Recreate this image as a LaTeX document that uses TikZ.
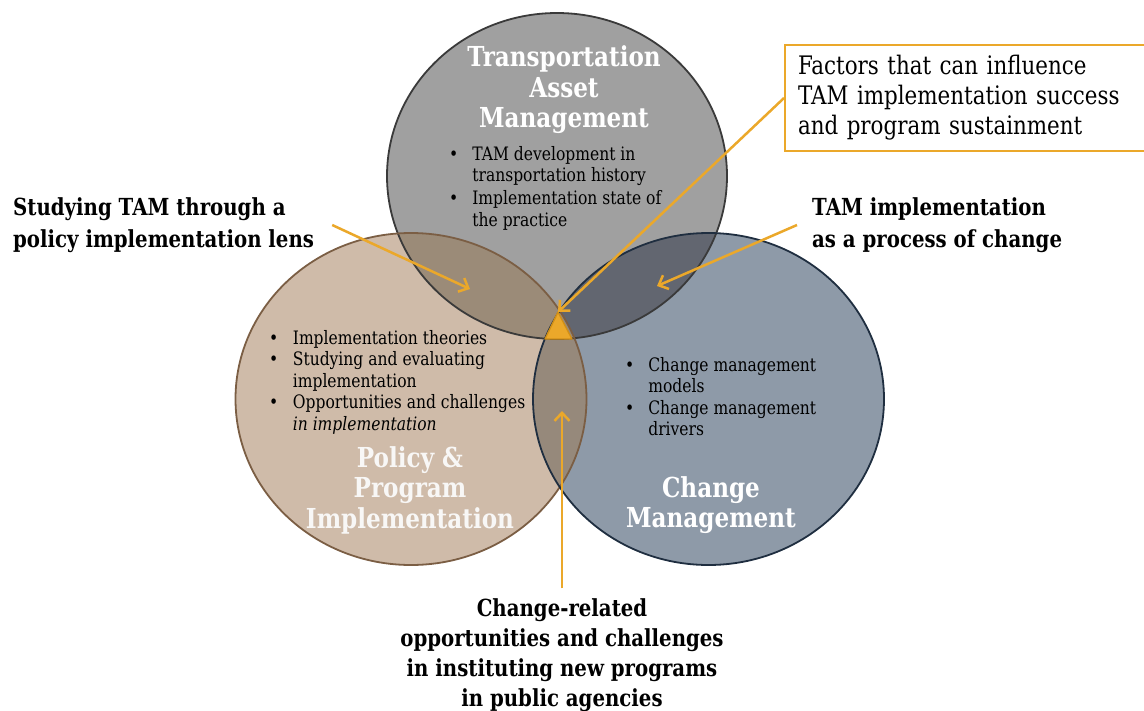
\documentclass[tikz,border=0pt]{standalone}
\usepackage{fontspec}
\setmainfont{DejaVu Serif}[FakeStretch=0.84]
\usetikzlibrary{arrows.meta}
\definecolor{tamfill}{HTML}{A0A0A0}
\definecolor{tamline}{HTML}{3A3A3A}
\definecolor{polfill}{HTML}{CFBBA9}
\definecolor{polline}{HTML}{7B5E44}
\definecolor{chgfill}{HTML}{8E9AA8}
\definecolor{chgline}{HTML}{1F2E40}
\definecolor{tplens}{HTML}{9B8B78}
\definecolor{tclens}{HTML}{626670}
\definecolor{pclens}{HTML}{96897B}
\definecolor{tamorange}{HTML}{EBA82A}
\definecolor{tamorangedark}{HTML}{D08F18}
\begin{document}
\begin{tikzpicture}[x=1pt, y=-1pt,
    title/.style = {text=white, font=\fontsize{27.5}{30.5}\selectfont\bfseries, align=center, inner sep=0pt},
    bul/.style = {anchor=base west, inner sep=0pt, font=\fontsize{18.5}{21.5}\selectfont},
    lbl/.style = {font=\fontsize{23.5}{32}\selectfont\bfseries, align=left, inner sep=0pt},
    pointer/.style = {draw=tamorange, line width=2.5pt, -{Straight Barb[length=8pt,width=15pt]}}]
    \useasboundingbox (0,0) rectangle (1144,710);
    \coordinate (tamc) at (557,176); %centre of TAM circle
    \coordinate (polc) at (411,399); %centre of policy circle
    \coordinate (chgc) at (708.5,399); %centre of change circle
    
    %Circles
    \fill[tamfill] (tamc) ellipse [x radius=170pt, y radius=163pt];
    \fill[polfill] (polc) ellipse [x radius=175.5pt, y radius=166pt];
    \fill[chgfill] (chgc) ellipse [x radius=175.5pt, y radius=166pt];
    
    %Overlaps
    \begin{scope}
        \clip (tamc) ellipse [x radius=170pt, y radius=163pt];
        \fill[tplens] (polc) ellipse [x radius=175.5pt, y radius=166pt];
        \fill[tclens] (chgc) ellipse [x radius=175.5pt, y radius=166pt];
    \end{scope}
    \begin{scope}
        \clip (polc) ellipse [x radius=175.5pt, y radius=166pt];
        \fill[pclens] (chgc) ellipse [x radius=175.5pt, y radius=166pt];
    \end{scope}
    
    %Outlines
    \draw[tamline, line width=1.8pt] (tamc) ellipse [x radius=170pt, y radius=163pt];
    \draw[polline, line width=1.8pt] (polc) ellipse [x radius=175.5pt, y radius=166pt];
    \draw[chgline, line width=1.8pt] (chgc) ellipse [x radius=175.5pt, y radius=166pt];
    
    %Centre triangle
    \coordinate (apex) at (558,312);
    \filldraw[fill=tamorange, draw=tamorangedark, line width=1.4pt, line join=round] (apex) -- (572,339) -- (545,339) -- cycle;
    
    %Circle titles
    \node[title] (tamtitle) at (564,90) {Transportation\\Asset\\Management};
    \node[title, text=white!95!polline] (poltitle) at (410,490) {Policy \&\\Program\\Implementation};
    \node[title] (chgtitle) at (711,505) {Change\\Management};
    
    %Bullet lists
    \node[bul] (tamlist) at (449,160) {\begin{tabular}[t]{@{}l@{\hspace{14pt}}l@{}}
        \textbullet & TAM development in\\
        & transportation history\\[1.5pt]
        \textbullet & Implementation state of\\
        & the practice
    \end{tabular}};
    \node[bul] (pollist) at (269,344) {\begin{tabular}[t]{@{}l@{\hspace{14.5pt}}l@{}}
        \textbullet & Implementation theories\\
        \textbullet & Studying and evaluating\\
        & implementation\\
        \textbullet & Opportunities and challenges\\
        & \textit{in implementation}
    \end{tabular}};
    \node[bul] (chglist) at (625,371) {\begin{tabular}[t]{@{}l@{\hspace{14pt}}l@{}}
        \textbullet & Change management\\
        & models\\
        \textbullet & Change management\\
        & drivers
    \end{tabular}};
    
    %Outside labels
    \node[lbl, anchor=west] (study) at (13,225) {Studying TAM through a\\policy implementation lens};
    \node[lbl, anchor=west] (process) at (812,225) {TAM implementation\\as a process of change};
    \node[draw=tamorange, line width=2pt, fill=white, anchor=west, minimum height=106pt,
        text width=340pt, inner xsep=13pt, align=left,
        font=\fontsize{25.5}{30}\selectfont] (factors) at (784,98) {Factors that can influence\\TAM implementation success\\and program sustainment};
    \node[lbl, align=center, font=\fontsize{23.5}{30}\selectfont\bfseries] (related) at (562,655) {Change-related\\opportunities and challenges\\in instituting new programs\\in public agencies};
    
    %Pointers
    \draw[pointer] ([xshift=18pt]study.east) -- (470,289); %to TAM and policy overlap
    \draw[pointer] ([xshift=-15pt]process.west) -- (657,286); %to TAM and change overlap
    \draw[pointer] (factors.west) -- (apex); %to centre
    \draw[pointer] ([yshift=10pt]related.north) -- (562,411); %to policy and change overlap
\end{tikzpicture}
\end{document}
